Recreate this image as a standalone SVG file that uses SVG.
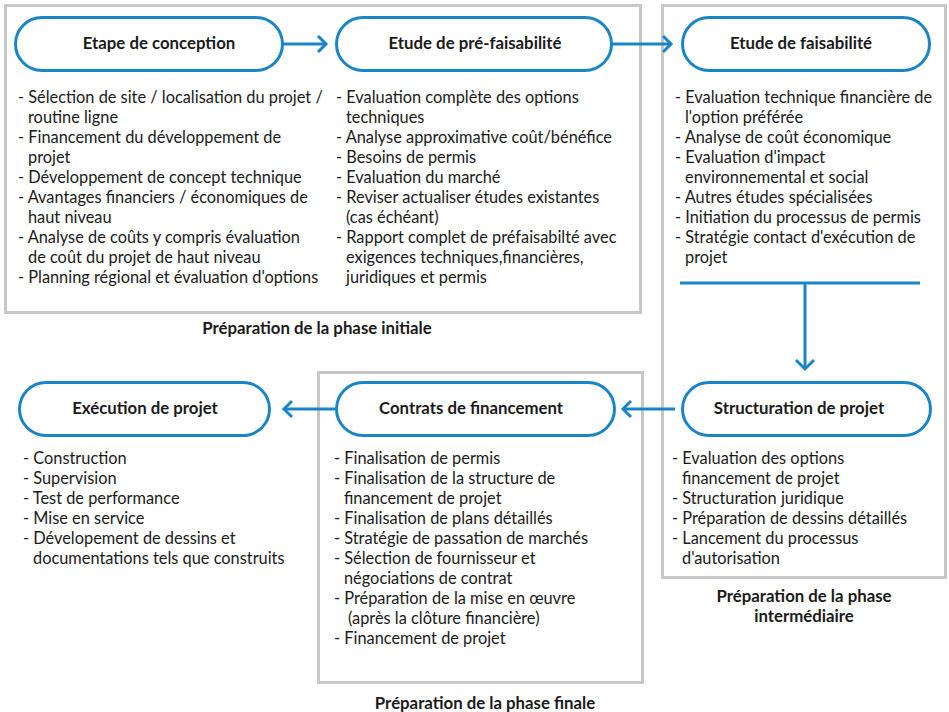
<svg xmlns="http://www.w3.org/2000/svg" width="949" height="712" viewBox="0 0 949 712">
<defs>
<style>
.frame{fill:#fff;stroke:#c8c8c8;stroke-width:3}
.pill{fill:#fff;stroke:#1a85c6;stroke-width:3}
.title{font-family:Lato,"Liberation Sans",sans-serif;font-weight:bold;font-size:16.8px;fill:#1a1a1a;text-anchor:middle}
.body{font-family:Lato,"Liberation Sans",sans-serif;font-size:16.35px;fill:#1a1a1a}
.phase{font-family:Lato,"Liberation Sans",sans-serif;font-weight:bold;font-size:16.8px;fill:#1a1a1a;text-anchor:middle}
.conn{fill:none;stroke:#1a85c6;stroke-width:3}
.head{fill:none;stroke:#1a85c6;stroke-width:3;stroke-linecap:butt;stroke-linejoin:miter}
</style>
</defs>
<rect width="949" height="712" fill="#fff"/>
<g id="frames">
<rect class="frame" x="5.5" y="5.5" width="635" height="307"/>
<rect class="frame" x="662.5" y="5.5" width="283" height="572"/>
<rect class="frame" x="318.5" y="372.5" width="324" height="310"/>
</g>
<g id="connectors">
<line class="conn" x1="283" y1="44" x2="326" y2="44"/>
<polyline class="head" points="318,36 326,44 318,52"/>
<line class="conn" x1="612" y1="44" x2="671" y2="44"/>
<polyline class="head" points="663,36 671,44 663,52"/>
<line class="conn" x1="680" y1="283" x2="920" y2="283"/>
<line class="conn" x1="805" y1="283" x2="805" y2="369"/>
<polyline class="head" points="796,360 805,369 814,360"/>
<line class="conn" x1="675" y1="409" x2="623" y2="409"/>
<polyline class="head" points="631,401 623,409 631,417"/>
<line class="conn" x1="336" y1="409" x2="284" y2="409"/>
<polyline class="head" points="292,401 284,409 292,417"/>
</g>
<g id="node-conception">
<rect class="pill" x="15.5" y="17.5" width="267" height="53" rx="26.5"/>
<text class="title" x="159" y="49">Etape de conception</text>
<text class="body" x="18" y="103">- Sélection de site / localisation du projet /</text>
<text class="body" x="28" y="123">routine ligne</text>
<text class="body" x="18" y="143">- Financement du développement de</text>
<text class="body" x="28" y="163">projet</text>
<text class="body" x="18" y="183">- Développement de concept technique</text>
<text class="body" x="18" y="203">- Avantages financiers / économiques de</text>
<text class="body" x="28" y="223">haut niveau</text>
<text class="body" x="18" y="243">- Analyse de coûts y compris évaluation</text>
<text class="body" x="28" y="263">de coût du projet de haut niveau</text>
<text class="body" x="18" y="283">- Planning régional et évaluation d'options</text>
</g>
<g id="node-prefaisabilite">
<rect class="pill" x="336.5" y="17.5" width="275" height="53" rx="26.5"/>
<text class="title" x="475" y="49">Etude de pré-faisabilité</text>
<text class="body" x="336" y="103">- Evaluation complète des options</text>
<text class="body" x="346" y="123">techniques</text>
<text class="body" x="336" y="143">- Analyse approximative coût/bénéfice</text>
<text class="body" x="336" y="163">- Besoins de permis</text>
<text class="body" x="336" y="183">- Evaluation du marché</text>
<text class="body" x="336" y="203">- Reviser actualiser études existantes</text>
<text class="body" x="346" y="223">(cas échéant)</text>
<text class="body" x="336" y="243">- Rapport complet de préfaisabilté avec</text>
<text class="body" x="346" y="263">exigences techniques,financières,</text>
<text class="body" x="346" y="283">juridiques et permis</text>
</g>
<g id="node-faisabilite">
<rect class="pill" x="682.5" y="17.5" width="247" height="53" rx="26.5"/>
<text class="title" x="801" y="49">Etude de faisabilité</text>
<text class="body" x="675" y="103">- Evaluation technique financière de</text>
<text class="body" x="685" y="123">l'option préférée</text>
<text class="body" x="675" y="143">- Analyse de coût économique</text>
<text class="body" x="675" y="163">- Evaluation d'impact</text>
<text class="body" x="685" y="183">environnemental et social</text>
<text class="body" x="675" y="203">- Autres études spécialisées</text>
<text class="body" x="675" y="223">- Initiation du processus de permis</text>
<text class="body" x="675" y="243">- Stratégie contact d'exécution de</text>
<text class="body" x="685" y="263">projet</text>
</g>
<g id="node-structuration">
<rect class="pill" x="682.5" y="382.5" width="248" height="53" rx="26.5"/>
<text class="title" x="799" y="414">Structuration de projet</text>
<text class="body" x="672" y="464">- Evaluation des options</text>
<text class="body" x="682" y="484">financement de projet</text>
<text class="body" x="672" y="504">- Structuration juridique</text>
<text class="body" x="672" y="524">- Préparation de dessins détaillés</text>
<text class="body" x="672" y="544">- Lancement du processus</text>
<text class="body" x="682" y="564">d'autorisation</text>
</g>
<g id="node-contrats">
<rect class="pill" x="336.5" y="382.5" width="278" height="53" rx="26.5"/>
<text class="title" x="471" y="414">Contrats de financement</text>
<text class="body" x="334" y="464">- Finalisation de permis</text>
<text class="body" x="334" y="484">- Finalisation de la structure de</text>
<text class="body" x="344" y="504">financement de projet</text>
<text class="body" x="334" y="524">- Finalisation de plans détaillés</text>
<text class="body" x="334" y="544">- Stratégie de passation de marchés</text>
<text class="body" x="334" y="564">- Sélection de fournisseur et</text>
<text class="body" x="344" y="584">négociations de contrat</text>
<text class="body" x="334" y="604">- Préparation de la mise en œuvre</text>
<text class="body" x="348" y="624">(après la clôture financière)</text>
<text class="body" x="334" y="644">- Financement de projet</text>
</g>
<g id="node-execution">
<rect class="pill" x="19.5" y="382.5" width="250" height="53" rx="26.5"/>
<text class="title" x="145" y="414">Exécution de projet</text>
<text class="body" x="23" y="464">- Construction</text>
<text class="body" x="23" y="484">- Supervision</text>
<text class="body" x="23" y="504">- Test de performance</text>
<text class="body" x="23" y="524">- Mise en service</text>
<text class="body" x="23" y="544">- Dévelopement de dessins et</text>
<text class="body" x="33" y="564">documentations tels que construits</text>
</g>
<g id="phase-labels">
<text class="phase" x="317" y="334">Préparation de la phase initiale</text>
<text class="phase" x="804" y="602">Préparation de la phase</text>
<text class="phase" x="804" y="622">intermédiaire</text>
<text class="phase" x="485" y="709">Préparation de la phase finale</text>
</g>
</svg>
